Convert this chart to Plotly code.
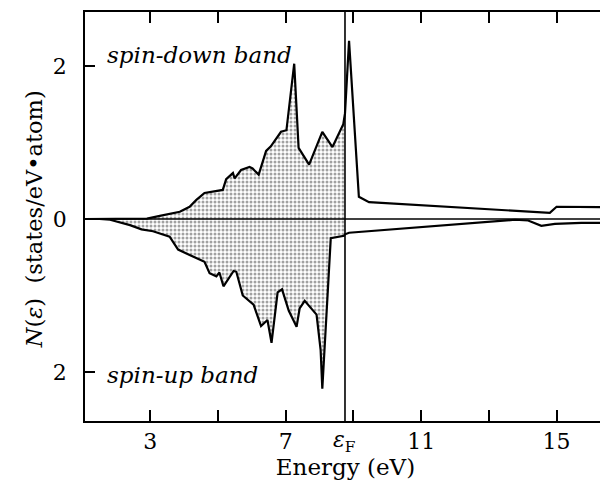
import plotly.graph_objects as go

# ---- data ----
FERMI_ENERGY = 8.75
ENERGY_RANGE = [1.07, 16.46]
DOS_RANGE = [-2.641, 2.706]

energy_down = [1.07, 2.5, 2.9, 3.28, 3.87, 4.16, 4.36, 4.60, 4.95, 5.14, 5.24, 5.44,
               5.49, 5.68, 5.93, 6.02, 6.20, 6.42, 6.56, 6.86, 7.02, 7.25, 7.38,
               7.69, 8.08, 8.38, 8.70, 8.75, 8.87, 9.16, 9.46, 14.8, 15.0, 16.46]
dos_down = [0.0, 0.0, 0.005, 0.04, 0.095, 0.16, 0.25, 0.34, 0.36, 0.38, 0.52, 0.60,
            0.53, 0.64, 0.68, 0.66, 0.58, 0.89, 0.95, 1.14, 1.16, 2.03, 0.93,
            0.71, 1.14, 0.94, 1.24, 1.38, 2.33, 0.29, 0.22, 0.08, 0.16, 0.155]

energy_up = [1.07, 1.5, 1.81, 2.40, 2.74, 3.08, 3.57, 3.82, 4.16, 4.60, 4.75, 4.95,
             5.04, 5.16, 5.46, 5.54, 5.73, 6.05, 6.27, 6.46, 6.58, 6.76, 6.89,
             7.09, 7.32, 7.41, 7.56, 7.91, 8.03, 8.08, 8.33, 8.72, 8.75, 8.87,
             13.77, 14.16, 14.55, 14.95, 15.73, 16.46]
dos_up = [0.0, 0.0, 0.01, 0.08, 0.135, 0.16, 0.23, 0.40, 0.47, 0.56, 0.71, 0.75,
          0.70, 0.88, 0.68, 0.69, 1.00, 1.12, 1.40, 1.32, 1.62, 0.96, 0.92,
          1.20, 1.41, 1.17, 1.07, 1.25, 1.71, 2.22, 0.25, 0.22, 0.20, 0.18,
          0.01, 0.02, 0.09, 0.065, 0.05, 0.05]

x_tickvals = [3, 7, 11, 15]
x_ticktext = ["3", "7", "11", "15"]
x_minor_ticks = [5, 9, 13]
y_tickvals = [-2, 0, 2]
y_ticktext = ["2", "0", "2"]

FONT = "DejaVu Serif"

# spin-up plotted downward
neg_up = [-v for v in dos_up]

def occupied(es, vs):
    pairs = [(e, v) for e, v in zip(es, vs) if e <= FERMI_ENERGY]
    return [p[0] for p in pairs], [p[1] for p in pairs]

fig = go.Figure()
pattern = dict(shape=".", fgcolor="#444444", bgcolor="white", size=4, solidity=0.45)

for es, vs in [(energy_down, dos_down), (energy_up, neg_up)]:
    oe, ov = occupied(es, vs)
    fig.add_trace(go.Scatter(x=oe, y=ov, mode="lines", line=dict(width=0),
                             fill="tozeroy", fillpattern=pattern,
                             fillcolor="white", hoverinfo="skip", showlegend=False))

for es, vs in [(energy_down, dos_down), (energy_up, neg_up)]:
    fig.add_trace(go.Scatter(x=es, y=vs, mode="lines",
                             line=dict(color="black", width=2.2),
                             showlegend=False))

fig.add_hline(y=0, line=dict(color="black", width=1.6))
fig.add_vline(x=FERMI_ENERGY, line=dict(color="black", width=1.6))

# page body has an 8px margin: figure is 600x475 so its right/bottom meet the window edge
fig.update_layout(
    width=600, height=475,
    margin=dict(l=77, r=0, t=4, b=62),
    paper_bgcolor="white", plot_bgcolor="white",
    font=dict(family=FONT, color="black", size=20),
    xaxis=dict(range=ENERGY_RANGE, tickvals=x_tickvals, ticktext=x_ticktext,
               ticks="inside", ticklen=11, tickwidth=1.5, tickcolor="black",
               minor=dict(tickvals=x_minor_ticks, ticks="inside", ticklen=11,
                          tickwidth=1.5, tickcolor="black", showgrid=False),
               showline=True, linecolor="black", linewidth=1.5, mirror="allticks",
               showgrid=False, zeroline=False,
               tickfont=dict(size=22, family=FONT),
               title=dict(text="Energy (eV)", font=dict(size=23, family=FONT), standoff=2)),
    yaxis=dict(range=DOS_RANGE, tickvals=y_tickvals, ticktext=y_ticktext,
               ticks="inside", ticklen=10, tickwidth=1.5, tickcolor="black",
               showline=True, linecolor="black", linewidth=1.5, mirror=True,
               showgrid=False, zeroline=False, ticklabelstandoff=12,
               tickfont=dict(size=22, family=FONT)),
    annotations=[
        dict(text="<i>N</i>(<i>ε</i>)  (states/eV•atom)", xref="paper", yref="y",
             x=-51 / 523, y=0, textangle=-90, showarrow=False,
             xanchor="center", yanchor="middle", font=dict(size=22.5, family=FONT)),
        dict(text="<i>spin-down band</i>", xref="x", yref="y", x=1.66, y=2.14,
             showarrow=False, xanchor="left", yanchor="middle",
             font=dict(size=23, family=FONT)),
        dict(text="<i>spin-up band</i>", xref="x", yref="y", x=1.66, y=-2.04,
             showarrow=False, xanchor="left", yanchor="middle",
             font=dict(size=23, family=FONT)),
        dict(text="<i>ε</i><sub>F</sub>", xref="x", yref="paper", x=FERMI_ENERGY, y=0,
             yshift=-4, showarrow=False, xanchor="center", yanchor="top",
             font=dict(size=22, family=FONT)),
    ],
)

fig.write_html("out.html")
